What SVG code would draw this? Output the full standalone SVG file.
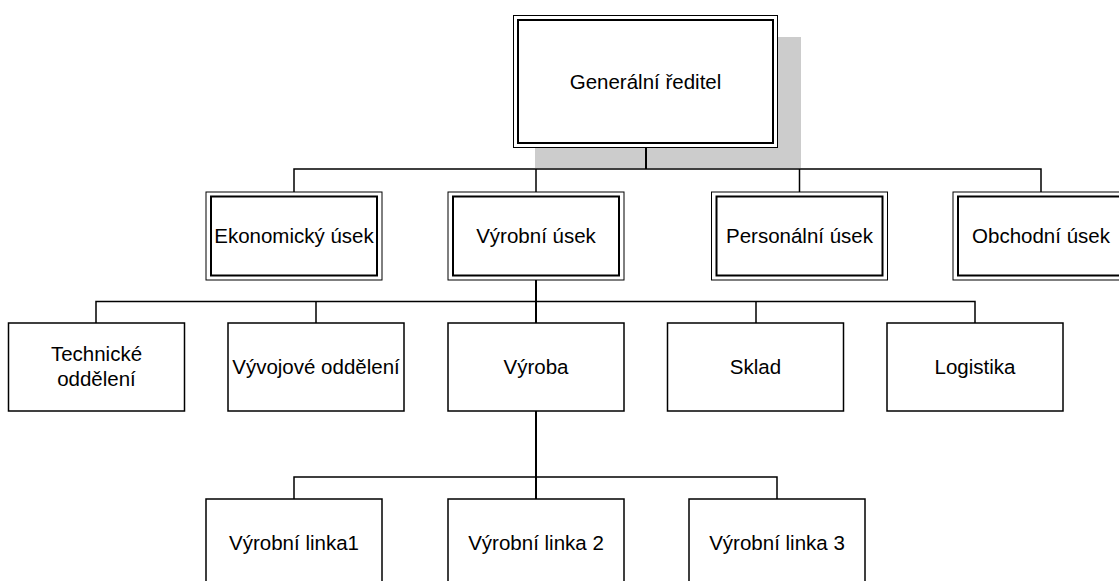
<svg xmlns="http://www.w3.org/2000/svg" width="1119" height="581" viewBox="0 0 1119 581">
<style>
.t{font-family:"Liberation Sans",Arial,sans-serif;font-size:20.5px;fill:#000;text-anchor:middle}
.o{fill:#fff;stroke:#000;stroke-width:1}
.i{fill:none;stroke:#000;stroke-width:2}
.b{fill:#fff;stroke:#000;stroke-width:1.5}
.c{fill:none;stroke:#000;stroke-width:1.5}
.k{fill:none;stroke:#000;stroke-width:2}
</style>
<rect width="1119" height="581" fill="#fff"/>
<rect x="535" y="37" width="266" height="131" fill="#cccccc"/>
<g id="connectors">
<path class="k" d="M646 148V169"/>
<path class="c" d="M294 192V169H1041V192M536 169V192M799.5 169V192"/>
<path class="k" d="M536 280V323"/>
<path class="c" d="M96 323V301.5H975V323M316 301.5V323M756 301.5V323"/>
<path class="k" d="M536 411V499"/>
<path class="c" d="M294 499V477H777V499"/>
</g>
<g id="n-generalni">
<rect class="o" x="513.5" y="15.5" width="264" height="132"/>
<rect class="i" x="518" y="20" width="255" height="123"/>
<text class="t" x="645.5" y="88.5">Generální ředitel</text>
</g>
<g id="n-ekonomicky">
<rect class="o" x="206" y="192" width="176" height="88"/>
<rect class="i" x="211" y="196.5" width="166" height="79"/>
<text class="t" x="294" y="243">Ekonomický úsek</text>
</g>
<g id="n-vyrobni-usek">
<rect class="o" x="448" y="192" width="176" height="88"/>
<rect class="i" x="453" y="196.5" width="166" height="79"/>
<text class="t" x="536" y="243">Výrobní úsek</text>
</g>
<g id="n-personalni">
<rect class="o" x="711.5" y="192" width="176" height="88"/>
<rect class="i" x="716.5" y="196.5" width="166" height="79"/>
<text class="t" x="799.5" y="243">Personální úsek</text>
</g>
<g id="n-obchodni">
<rect class="o" x="953" y="192" width="176" height="88"/>
<rect class="i" x="958" y="196.5" width="166" height="79"/>
<text class="t" x="1041" y="243">Obchodní úsek</text>
</g>
<g id="n-technicke">
<rect class="b" x="8.5" y="323" width="176" height="88"/>
<text class="t" x="96.5" y="361">Technické</text>
<text class="t" x="96.5" y="386">oddělení</text>
</g>
<g id="n-vyvojove">
<rect class="b" x="228" y="323" width="176" height="88"/>
<text class="t" x="316" y="374">Vývojové oddělení</text>
</g>
<g id="n-vyroba">
<rect class="b" x="448" y="323" width="176" height="88"/>
<text class="t" x="536" y="374">Výroba</text>
</g>
<g id="n-sklad">
<rect class="b" x="667.5" y="323" width="176" height="88"/>
<text class="t" x="755.5" y="374">Sklad</text>
</g>
<g id="n-logistika">
<rect class="b" x="887" y="323" width="176" height="88"/>
<text class="t" x="975" y="374">Logistika</text>
</g>
<g id="n-linka1">
<rect class="b" x="206" y="499" width="176" height="88"/>
<text class="t" x="294" y="550">Výrobní linka1</text>
</g>
<g id="n-linka2">
<rect class="b" x="448" y="499" width="176" height="88"/>
<text class="t" x="536" y="550">Výrobní linka 2</text>
</g>
<g id="n-linka3">
<rect class="b" x="689" y="499" width="176" height="88"/>
<text class="t" x="777" y="550">Výrobní linka 3</text>
</g>
</svg>
